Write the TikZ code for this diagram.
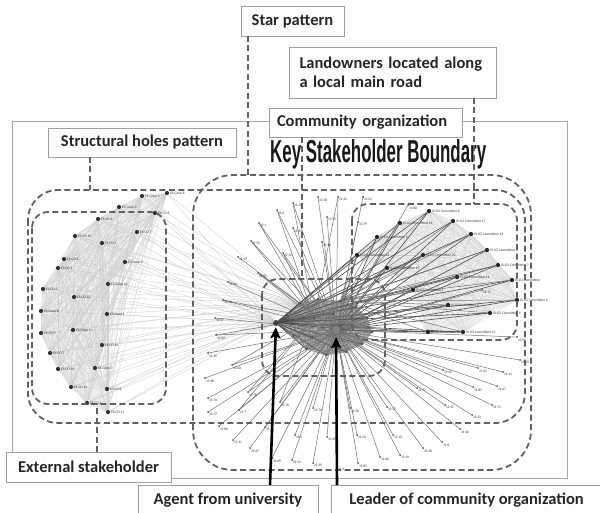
\documentclass[tikz,border=0pt]{standalone}
\usepackage{fontspec}
\usepackage{graphicx}
\setmainfont{Carlito}
\newfontfamily\keyfont{Liberation Sans}
\usetikzlibrary{arrows.meta}
\pgfdeclarelayer{back}\pgfdeclarelayer{bg}\pgfdeclarelayer{front}
\pgfsetlayers{back,bg,main,front}
\begin{document}
\begin{tikzpicture}[x=1pt,y=-1pt,
  lbl/.style={draw=gray!75, line width=0.8pt, fill=white, font=\fontsize{16.5}{19.5}\selectfont\bfseries, text=black!85, inner sep=0pt},
  zone/.style={draw=black!62, line width=1.8pt, dash pattern=on 6pt off 3.5pt},
  esdot/.style={circle, fill=black!80, inner sep=0pt, minimum size=4.2pt},
  kdot/.style={circle, fill=black!85, inner sep=0pt, minimum size=4.2pt},
  isdot/.style={circle, fill=black!70, inner sep=0pt, minimum size=2pt},
  cdot/.style={circle, fill=black!70, inner sep=0pt, minimum size=2.5pt},
  tl/.style={font=\fontsize{3.6}{3.6}\selectfont, inner sep=0.6pt, text=black!80},
  mesh/.style={draw=gray!35, line width=0.25pt},
  fan/.style={draw=gray!40, line width=0.3pt},
  star/.style={draw=black!55, line width=0.5pt},
  dark/.style={draw=black!70, line width=0.6pt},
  arr/.style={draw=black, line width=2.6pt, -{Stealth[length=11pt,width=10pt,inset=2pt]}}
]
\useasboundingbox (0,0) rectangle (600,513);
\begin{pgfonlayer}{back}
\fill[white] (0,0) rectangle (600,513);
\draw[gray!70, line width=0.9pt] (12,121) rectangle (567,478);
\fill[gray!10] (167,193) -- (155,213) -- (137,232) -- (125,262) -- (108,284) -- (107,314) -- (102,345) -- (95,368) -- (107,389) -- (108,412) -- (87,403) -- (71,387) -- (50,353) -- (41,333) -- (41,311) -- (43,289) -- (58,268) -- (64,259) -- (75,236) -- (98,219) -- (119,207) -- (142,196) -- cycle;
\fill[gray!12] (429,211) -- (453,221) -- (471,234) -- (487,250) -- (498,265) -- (512,280) -- (517,300) -- (490,313) -- (463,332) -- (428,332) -- (413,290) -- (387,268) -- (357,255) -- (377,237) -- (400,223) -- cycle;
\fill[black!28] (276,323) -- (300,303) -- (318,299) -- (340,301) -- (356,307) -- (367,318) -- (372,332) -- (362,344) -- (346,352) -- (326,355) -- (306,349) -- (293,336) -- cycle;
\end{pgfonlayer}

% hubs
\node[circle, fill=black!75, inner sep=0pt, minimum size=6pt] (agent) at (276,323) {};
\node[circle, fill=black!50, draw=black!70, inner sep=0pt, minimum size=10pt] (hubL) at (336,330) {};

% external stakeholders
\foreach \n/\x/\y/\t in {1/142/196/ES-Gove 5,2/167/193/ES-Gove 6,3/119/207/ES-Gove 2,4/155/213/ES-CO 9,5/98/219/ES-CO 6,6/137/232/ES-CO 7,7/75/236/ES-CO 15,8/102/243/ES-CO 5,9/64/259/ES-CO 8,10/125/262/ES-Gove 4,11/58/268/ES-CO 1,12/108/284/ES-Gove 10,13/43/289/ES-CO 2,14/74/297/ES-CO 12,15/41/311/ES-Gove 8,16/107/314/ES-Gove 1,17/41/333/ES-CO 3,18/73/330/ES-Gove 3,19/102/345/ES-CO 10,20/50/353/ES-CO 7,21/95/368/ES-Gove 7,22/58/369/ES-CO 16,23/71/387/ES-CO 14,24/107/389/ES-CO 8,25/87/403/ES-CO 4,26/108/412/ES-CO 11}{
  \node[esdot] (L\n) at (\x,\y) {};
  \node[tl, anchor=west] at (L\n.east) {\t};
}

% core of community organization
\foreach \n/\x/\y in {1/300/303,2/318/299,3/340/301,4/356/307,5/367/318,6/372/332,7/362/344,8/346/352,9/326/355,10/306/349,11/293/336,12/314/318,13/333/314,14/352/325,15/312/337,16/288/316}{
  \node[cdot] (C\n) at (\x,\y) {};
}

% committee cluster
\foreach \n/\x/\y/\t in {1/429/211/IS-CO Committee 6,2/400/223/IS-CO Committee 16,3/453/221/IS-CO Committee 17,4/377/237/IS-CO Committee 5,5/471/234/IS-CO Committee 14,6/423/255/IS-CO Committee 20,7/487/250/IS-CO Committee 3,8/357/255/IS-CO Committee 12,9/387/268/IS-CO Committee 19,10/498/265/IS-CO Committee 7,11/457/277/IS-CO Committee 11,12/413/290/IS-CO Committee 1,13/512/280/IS-CO Committee,14/448/305/IS-CO Committee 4,15/517/300/IS-CO Committee 2,16/490/313/IS-CO Committee 9,17/428/332/IS-CO Committee 10,18/463/332/IS-CO Committee 13}{
  \node[kdot] (K\n) at (\x,\y) {};
  \node[tl, anchor=west] at (K\n.east) {\t};
}

% star pattern nodes
\foreach \n/\x/\y/\t in {1/293/203/IS-35,2/318/197/IS-38,3/338/197/IS-44,4/363/197/IS-21,5/277/210/IS-6,6/327/217/IS-75,7/259/223/IS-1,8/293/228/IS-84,9/251/241/IS-55,10/322/242/IS-46,11/283/253/IS-12,12/238/257/IS-17,13/258/273/IS-85,14/228/282/IS-41,15/223/300/IS-40,16/215/318/IS-27,17/216/335/IS-62,18/208/353/IS-36,19/232/365/IS-60,20/205/378/IS-68,21/248/392/IS-78,22/208/398/IS-74,23/280/402/IS-76,24/208/412/IS-57,25/239/410/IS-7,26/313/408/IS-70,27/350/408/IS-56,28/219/426/IS-86,29/265/427/IS-3,30/233/440/IS-41,31/295/435/IS-5,32/327/437/IS-49,33/357/435/IS-24,34/250/448/IS-67,35/272/458/IS-69,36/292/460/IS-53,37/313/463/IS-39,38/337/467/IS-4,39/358/463/IS-87,40/380/457/IS-40,41/400/455/IS-19,42/423/448/IS-28,43/442/442/IS-8,44/460/429/IS-16,45/472/415/IS-33,46/445/405/IS-47,47/492/405/IS-71,48/473/387/IS-85,49/497/386/IS-67,50/417/388/IS-77,51/387/407/IS-37,52/393/435/IS-13,53/520/360/IS-55,54/503/372/IS-11,55/478/368/IS-61,56/443/370/IS-45,57/517/337/IS-36,58/358/222/IS-79,59/408/205/IS-80,60/482/290/IS-75}{
  \node[isdot] (S\n) at (\x,\y) {};
  \node[tl, anchor=north west] at (S\n.south east) {\t};
}

\begin{pgfonlayer}{bg}
% mesh among external stakeholders
\foreach \i in {1,...,26}{\foreach \j in {\i,...,26}{\draw[mesh] (L\i.center) -- (L\j.center);}}
\foreach \i in {1,...,26}{\draw[fan] (L\i) -- (agent); \draw[fan] (L\i) -- (C1);}
% committee mesh
\foreach \i in {1,...,18}{\foreach \j in {\i,...,18}{\draw[mesh] (K\i.center) -- (K\j.center);}}
\foreach \i in {1,...,18}{\draw[dark] (K\i) -- (agent); \draw[dark] (K\i) -- (hubL); \draw[star] (K\i) -- (C3);}
% core mesh
\foreach \i in {1,...,16}{\foreach \j in {\i,...,16}{\draw[draw=black!50, line width=0.35pt] (C\i.center) -- (C\j.center);}}
\foreach \i in {1,...,16}{\draw[dark] (C\i) -- (agent);}
% star edges
\foreach \i in {1,...,60}{\draw[star] (S\i) -- (hubL);}
\foreach \i in {1,3,5,7,9,11,13,15,17,19,21,23,25}{\draw[star] (S\i) -- (C12);}
\end{pgfonlayer}

% zones
\draw[zone, rounded corners=40pt] (193,175) rectangle (531,470);
\draw[zone, rounded corners=30pt] (28,190) rectangle (525,423);
\draw[zone, rounded corners=16pt] (32,212) rectangle (166,404);
\draw[zone, rounded corners=16pt] (352,204) rectangle (517,340);
\draw[zone, rounded corners=16pt] (262,279) rectangle (385,376);

% title
\node[anchor=base west, inner sep=0pt, text=black!90] (title) at (270,163) {\resizebox{216pt}{23pt}{\keyfont\bfseries Key Stakeholder Boundary}};

% labels
\node[lbl, minimum width=103pt, minimum height=30pt] (starlbl) at (292.5,21) {Star pattern};
\node[lbl, minimum height=51pt, text width=186pt, inner xsep=10.5pt, align=left] (landlbl) at (392.5,72.5) {Landowners located along\\a local main road};
\node[lbl, minimum height=29pt, text width=177pt, inner xsep=8pt, align=left] (commlbl) at (365.5,122.5) {Community organization};
\node[lbl, minimum width=188pt, minimum height=29pt] (structlbl) at (142,142.5) {Structural holes pattern};
\node[lbl, minimum width=165pt, minimum height=30pt] (extlbl) at (88.5,467) {External stakeholder};
\node[lbl, minimum width=180pt, minimum height=30pt] (agentlbl) at (228,500) {Agent from university};
\node[lbl, minimum width=271pt, minimum height=30pt] (leaderlbl) at (466.5,500) {Leader of community organization};

% leaders
\coordinate (starA) at (248,36);  \coordinate (starB) at (248,175);
\coordinate (strA) at (90,157);   \coordinate (strB) at (90,190);
\coordinate (comA) at (302,137);  \coordinate (comB) at (302,279);
\coordinate (lanA) at (474,98);   \coordinate (lanB) at (474,204);
\coordinate (extA) at (97,452);   \coordinate (extB) at (97,404);
\draw[zone] (starA) -- (starB);
\draw[zone] (strA) -- (strB);
\draw[zone] (comA) -- (comB);
\draw[zone] (lanA) -- (lanB);
\draw[zone] (extA) -- (extB);

% arrows
\coordinate (agArr) at (270,485);
\coordinate (ldArr) at (337,485);
\draw[arr, shorten >=1pt] (agArr) -- (agent);
\draw[arr, shorten >=2pt] (ldArr) -- (hubL);
\end{tikzpicture}
\end{document}
